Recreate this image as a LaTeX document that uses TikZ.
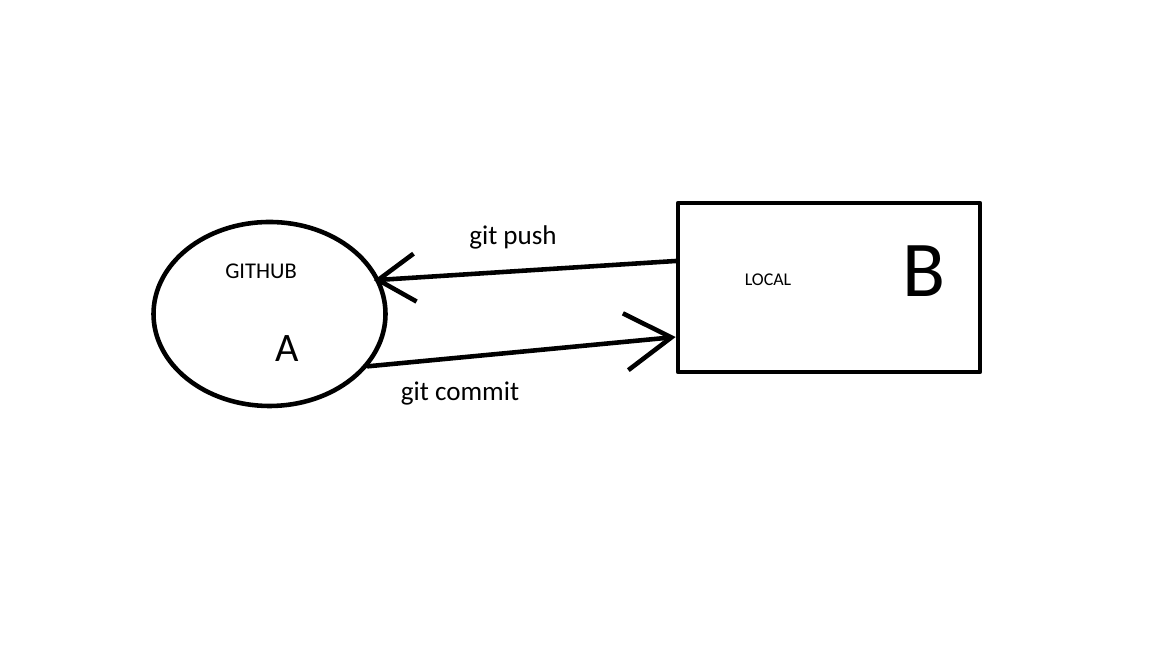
\documentclass[tikz,border=0pt]{standalone}
\usepackage{fontspec}
\setmainfont{Carlito}
\usetikzlibrary{shapes.geometric,arrows.meta}
\tikzset{
  pen/.style={line width=1.3pt, line cap=round, line join=round},
  txt/.style={inner sep=0pt, font=\fontsize{#1}{#1}\selectfont},
}
\begin{document}
\begin{tikzpicture}
  \useasboundingbox (0,0) rectangle (11.52,-6.48);
  % the two places
  \node[pen, draw, ellipse, minimum width=2.32cm, minimum height=1.84cm, inner sep=0pt] (github) at (2.695,-3.14) {};
  \node[pen, draw, rectangle, minimum width=3.02cm, minimum height=1.69cm, inner sep=0pt] (local) at (8.29,-2.875) {};
  \node[txt=6.4] (githubname) at (2.61,-2.71) {GITHUB};
  \node[txt=11.5] (a) at (2.87,-3.49) {A};
  \node[txt=5.1] (localname) at (7.68,-2.80) {LOCAL};
  \node[txt=22.5] (b) at (9.24,-2.715) {B};
  % connectors
  \draw[pen, -{Straight Barb[length=0.37cm, width=0.48cm]}] ([yshift=0.265cm]local.west) -- ([xshift=-0.06cm]github.17);
  \draw[pen, -{Straight Barb[length=0.46cm, width=0.57cm]}] (github.-28) -- ([yshift=-0.495cm]local.west);
  \node[txt=7.7, anchor=base] (push) at (5.13,-2.45) {git push};
  \node[txt=7.7, anchor=base] (commit) at (4.60,-4.01) {git commit};
\end{tikzpicture}
\end{document}
